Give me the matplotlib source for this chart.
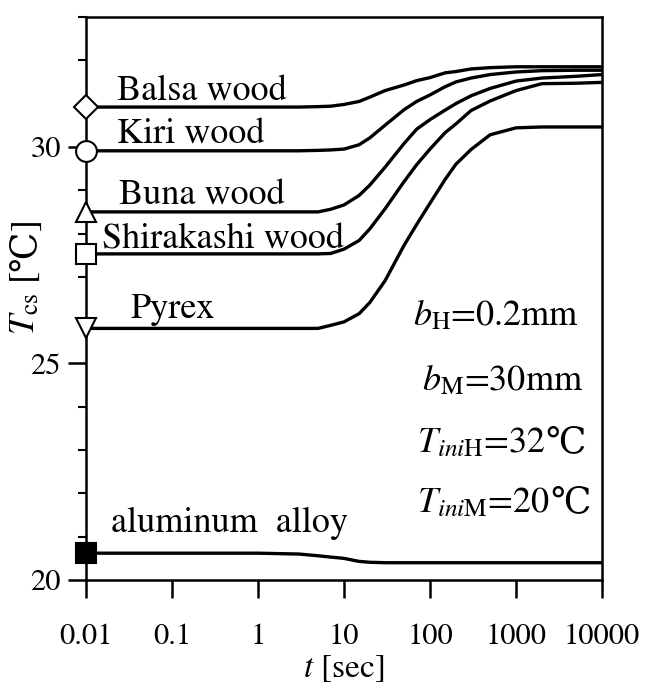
import numpy as np
import matplotlib
matplotlib.use("Agg")
import matplotlib.pyplot as plt
from matplotlib.ticker import MultipleLocator, NullFormatter, LogLocator

plt.rcParams['font.family'] = ['STIXGeneral', 'DejaVu Serif']
plt.rcParams['mathtext.fontset'] = 'stix'
DEG_FONT = ['DejaVu Serif', 'Noto Sans CJK JP']

t = [0.01, 1, 3, 5, 7, 10, 15, 20, 30, 50, 70, 100, 150, 200, 300, 500,
     1000, 2000, 5000, 10000]

# T_cs [C] for each material
balsa = [30.92, 30.92, 30.92, 30.93, 30.94, 30.98, 31.05, 31.15, 31.30, 31.43,
         31.53, 31.60, 31.71, 31.74, 31.80, 31.83, 31.85, 31.85, 31.85, 31.85]
kiri = [29.91, 29.91, 29.91, 29.92, 29.93, 29.95, 30.05, 30.21, 30.50, 30.86,
        31.05, 31.20, 31.39, 31.50, 31.59, 31.67, 31.73, 31.76, 31.77, 31.77]
buna = [28.50, 28.50, 28.50, 28.50, 28.56, 28.66, 28.88, 29.12, 29.53, 30.08,
        30.41, 30.63, 30.85, 31.00, 31.18, 31.35, 31.52, 31.59, 31.63, 31.67]
shirakashi = [27.53, 27.53, 27.53, 27.53, 27.54, 27.64, 27.84, 28.11, 28.57, 29.20,
              29.59, 29.95, 30.33, 30.53, 30.84, 31.06, 31.30, 31.46, 31.47, 31.49]
pyrex = [25.81, 25.81, 25.81, 25.81, 25.88, 25.96, 26.15, 26.41, 26.91, 27.73,
         28.21, 28.70, 29.25, 29.60, 29.94, 30.28, 30.44, 30.46, 30.46, 30.46]
aluminum = [20.62, 20.62, 20.60, 20.56, 20.53, 20.50, 20.43, 20.41, 20.40, 20.40,
            20.40, 20.40, 20.40, 20.40, 20.40, 20.40, 20.40, 20.40, 20.40, 20.40]

series = [balsa, kiri, buna, shirakashi, pyrex, aluminum]
markers = ['D', 'o', '^', 's', 'v', 's']
msizes = [12, 15, 14, 15, 14, 15]
faces = ['white', 'white', 'white', 'white', 'white', 'black']

names = ['Balsa wood', 'Kiri wood', 'Buna wood', 'Shirakashi wood', 'Pyrex',
         'aluminum  alloy']
name_pos = [(0.0229, 31.06), (0.0229, 30.08), (0.0245, 28.66), (0.0155, 27.65),
            (0.033, 26.04), (0.0195, 21.11)]

xticks = [0.01, 0.1, 1, 10, 100, 1000, 10000]
xtick_labels = ['0.01', '0.1', '1', '10', '100', '1000', '10000']
yticks = [20, 25, 30]

# (math part, unit symbol appended after it)
conditions = [(r'$b_{\mathrm{H}}$=0.2mm', ''), (r'$b_{\mathrm{M}}$=30mm', ''),
              (r'$T_{ini\mathrm{H}}$=32', '℃'), (r'$T_{ini\mathrm{M}}$=20', '℃')]
cond_pos = [(63.4, 25.88), (80.7, 24.38), (70.6, 22.96), (70.6, 21.57)]

fig = plt.figure(figsize=(6.49, 6.87), dpi=100)
ax = fig.add_axes([0.1325, 0.1557, 0.7951, 0.8196])

for y, m, ms, fc in zip(series, markers, msizes, faces):
    ax.plot(t, y, color='black', lw=2.4, solid_capstyle='butt')
    ax.plot(t[0], y[0], marker=m, ms=ms, mfc=fc, mec='black', mew=1.5,
            ls='none', clip_on=False, zorder=5)

for name, (x, y) in zip(names, name_pos):
    ax.text(x, y, name, fontsize=26, ha='left', va='baseline')

for (txt, unit), (x, y) in zip(conditions, cond_pos):
    a = ax.text(x, y, txt, fontsize=26, ha='left', va='baseline')
    if unit:
        ax.annotate(unit, xy=(1, y), xycoords=(a, 'data'), fontsize=26,
                    family=DEG_FONT, ha='left', va='baseline')

ax.set_xscale('log')
ax.set_xlim(0.01, 10000)
ax.set_ylim(20, 33)
ax.set_xticks(xticks, labels=xtick_labels)
ax.xaxis.set_minor_locator(LogLocator(base=10, subs=np.arange(2, 10)))
ax.xaxis.set_minor_formatter(NullFormatter())
ax.set_yticks(yticks)
ax.yaxis.set_minor_locator(MultipleLocator(1))

ax.tick_params(which='major', direction='out', length=13, width=1.8,
               labelsize=22, pad=5)
ax.tick_params(axis='x', which='major', pad=18)
ax.tick_params(which='minor', direction='out', length=6, width=1.5)
for sp in ax.spines.values():
    sp.set_linewidth(1.8)

ax.set_xlabel(r'$t$ [sec]', fontsize=24, labelpad=2)

# y label, built from pieces so the degree sign can come from another font
lab1 = ax.text(-0.10, 0.435, r'$T_{\mathrm{cs}}$ [', transform=ax.transAxes,
               fontsize=26, rotation=90, rotation_mode='anchor',
               ha='left', va='baseline')
lab2 = ax.annotate('℃', xy=(-0.10, 1), xycoords=('axes fraction', lab1),
                   fontsize=26, family=DEG_FONT, rotation=90,
                   rotation_mode='anchor', ha='left', va='baseline')
ax.annotate(']', xy=(-0.10, 1), xycoords=('axes fraction', lab2),
            fontsize=26, rotation=90, rotation_mode='anchor',
            ha='left', va='baseline')

fig.savefig('out.png', dpi=100)
